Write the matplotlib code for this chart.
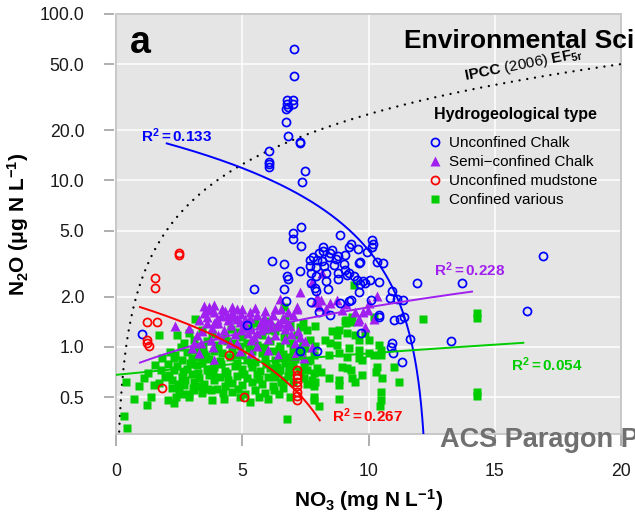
import numpy as np
import matplotlib
matplotlib.use("Agg")
import matplotlib.pyplot as plt
from matplotlib.patches import Rectangle
from matplotlib.ticker import NullLocator

plt.rcParams['font.family'] = ['Liberation Sans', 'DejaVu Sans']
plt.rcParams['mathtext.fontset'] = 'custom'
plt.rcParams['mathtext.rm'] = 'Liberation Sans'
plt.rcParams['mathtext.bf'] = 'Liberation Sans:bold'
plt.rcParams['mathtext.it'] = 'Liberation Sans:italic'
plt.rcParams['mathtext.sf'] = 'Liberation Sans'

# ---------------- data (NO3 mg N/L, N2O ug N/L) ----------------
unconfined_chalk = [
    (7.06, 61.3), (7.06, 42.4), (6.79, 30.3), (7.02, 30.3), (6.79, 28.7), (7.02, 28.7), (6.75, 26.8),
    (6.83, 27.6), (6.75, 22.5), (6.83, 18.6), (7.30, 17.0), (7.30, 16.7), (6.07, 15.0), (6.07, 12.9),
    (6.07, 12.5), (6.07, 12.1), (7.49, 11.4), (7.38, 9.8),
    (7.33, 5.27), (7.01, 4.85), (7.01, 4.43), (7.33, 4.04), (8.86, 4.70), (10.15, 4.39), (10.19, 4.15),
    (10.12, 3.96), (9.29, 4.15), (9.23, 3.96), (9.58, 3.89), (8.20, 3.96), (8.57, 3.82), (8.49, 3.68),
    (8.20, 3.78), (8.02, 3.65), (7.81, 3.45), (7.70, 3.32), (7.96, 3.32), (8.15, 3.29), (8.44, 3.48),
    (8.70, 3.36), (8.81, 3.51), (9.05, 3.56), (9.95, 3.71), (10.35, 3.25), (10.58, 3.20), (6.16, 3.29),
    (6.67, 3.15), (7.27, 2.84), (7.67, 3.06), (7.91, 3.03), (8.25, 3.06), (8.62, 3.10), (9.02, 3.15),
    (9.63, 3.18), (9.68, 3.24), (7.73, 2.77), (7.94, 2.67), (8.31, 2.77), (8.78, 2.77), (8.78, 2.57),
    (9.08, 2.90), (9.23, 2.79), (9.15, 2.70), (9.44, 2.67), (6.77, 2.67), (6.80, 2.57), (8.33, 2.50),
    (7.73, 2.43), (9.55, 2.52), (9.79, 2.50), (10.05, 2.52), (10.40, 2.45), (9.88, 2.41), (9.66, 2.39),
    (7.89, 2.25), (7.94, 2.18), (8.38, 2.22), (6.64, 2.24), (5.45, 2.22), (9.63, 2.15), (7.73, 1.85),
    (6.75, 1.90), (8.89, 1.83), (9.23, 1.88), (9.31, 1.91), (8.04, 1.63), (8.49, 1.55), (10.92, 2.18),
    (10.87, 1.97), (11.14, 1.93), (11.38, 1.91), (10.40, 1.56), (10.42, 1.51), (11.00, 1.45),
    (11.24, 1.47), (11.40, 1.52),
    (1.03, 1.19), (5.18, 1.36), (7.30, 0.95), (7.98, 0.95), (9.70, 1.21), (10.94, 1.06), (10.90, 1.00),
    (10.98, 0.92), (11.34, 0.81), (11.64, 1.11), (11.93, 2.42), (13.25, 1.08), (13.72, 2.42),
    (16.28, 1.65), (16.93, 3.53), (10.08, 1.91),
]

semi_confined_chalk = [
    (7.30, 2.15), (6.51, 1.93), (7.17, 1.73), (7.96, 2.00), (8.10, 1.91), (7.90, 1.87), (8.03, 1.75),
    (8.49, 1.83), (8.76, 1.91), (8.33, 1.68), (8.96, 1.67), (9.48, 1.63), (9.97, 1.67), (10.32, 2.02),
    (10.03, 1.83), (9.62, 1.47), (9.88, 1.32), (5.85, 1.49), (6.40, 1.39), (6.77, 1.39), (7.77, 2.47),
    (8.16, 2.77),
    (3.69, 1.73), (2.34, 1.34), (3.49, 1.59), (3.89, 1.63), (4.15, 1.53), (4.42, 1.45), (4.68, 1.52),
    (4.95, 1.58), (4.55, 1.36), (3.89, 1.40), (4.29, 1.26), (4.02, 1.18), (3.76, 1.10), (3.36, 1.05),
    (3.10, 1.05), (4.95, 1.26), (5.21, 1.21), (5.48, 1.15), (5.87, 1.49), (6.14, 1.32), (6.00, 0.96),
    (3.89, 0.84), (3.62, 1.39), (4.81, 1.05), (5.35, 1.10), (5.74, 1.26),
    (3.02, 0.99), (3.70, 1.66), (4.04, 1.40), (4.51, 1.51), (4.78, 1.47), (5.05, 1.40), (5.33, 1.28),
    (5.87, 1.44), (6.41, 1.34), (6.68, 1.28), (6.95, 1.19), (7.49, 1.08), (7.76, 1.00), (6.00, 1.11),
    (5.60, 1.22), (4.51, 1.06), (3.83, 1.00), (7.08, 0.90), (7.43, 0.86), (6.41, 0.90), (5.33, 0.92),
    (7.15, 1.70), (6.54, 1.68), (9.12, 1.82), (9.59, 1.44), (9.79, 1.62), (10.20, 1.47),
    (4.30, 1.65), (4.80, 1.70), (5.30, 1.62), (5.60, 1.55), (3.30, 1.45), (4.60, 1.62), (5.10, 1.48),
    (6.20, 1.55), (6.60, 1.50), (2.90, 1.30), (3.20, 1.18),
    (3.50, 1.75), (3.90, 1.78), (4.20, 1.70), (4.60, 1.74), (5.00, 1.68), (5.50, 1.72), (5.90, 1.65),
    (6.30, 1.70), (6.80, 1.62), (7.00, 1.55), (3.60, 1.52), (4.00, 1.48), (4.40, 1.55), (4.90, 1.42),
    (5.30, 1.50), (5.70, 1.38), (6.10, 1.45), (6.50, 1.40), (6.90, 1.33), (7.20, 1.25), (3.40, 1.25),
    (3.80, 1.30), (4.70, 1.20), (5.10, 1.32), (5.90, 1.30), (6.30, 1.18), (6.70, 1.12), (7.10, 1.05),
    (4.20, 1.12), (5.60, 1.02), (4.90, 0.95), (3.30, 0.92), (7.30, 1.15),
]

unconfined_mudstone = [
    (1.24, 1.41), (1.62, 1.41), (1.22, 1.10), (1.24, 1.06), (1.31, 1.02), (1.84, 0.565), (4.46, 0.895),
    (5.08, 0.50), (2.48, 3.66), (2.48, 3.58), (1.53, 2.59), (1.53, 2.25),
    (7.16, 0.728), (7.16, 0.68), (7.16, 0.65), (7.16, 0.62), (7.17, 0.58), (7.16, 0.54), (7.16, 0.51),
    (7.17, 0.48),
]

confined_various = [
    (3.13, 1.47), (1.71, 1.18), (2.43, 1.18), (2.57, 1.00), (1.84, 0.86), (2.30, 0.86), (3.10, 1.10),
    (3.29, 0.875), (1.77, 0.73), (2.30, 0.73), (1.11, 0.65), (0.38, 0.62), (0.91, 0.58), (1.51, 0.59),
    (1.38, 0.50), (0.71, 0.49), (1.24, 0.45), (2.04, 0.48), (2.37, 0.50), (2.90, 0.52), (0.32, 0.385),
    (0.45, 0.325), (2.21, 0.57), (2.75, 0.63), (2.28, 0.46), (2.88, 0.50),
    (4.29, 0.49), (3.76, 0.55), (3.36, 0.58), (3.10, 0.55),
    (6.24, 0.55), (6.31, 0.66), (6.64, 0.635), (6.84, 0.71), (6.38, 0.76), (6.90, 0.82), (6.58, 0.855),
    (7.43, 0.78), (7.70, 0.835), (7.57, 0.73), (7.77, 0.635), (7.43, 0.65),
    (8.49, 1.05), (8.76, 1.03), (9.22, 0.98), (9.62, 0.96), (10.01, 0.92),
    (6.90, 1.36), (6.38, 1.32), (7.57, 1.26), (7.17, 1.18), (6.64, 1.15), (7.70, 1.10), (8.29, 1.10),
    (9.09, 1.39), (9.29, 1.42), (8.82, 1.26),
    (8.56, 1.25), (8.76, 1.18), (9.15, 1.21), (9.48, 1.18), (9.88, 1.21), (10.01, 1.10), (9.62, 1.10),
    (10.41, 1.03), (10.48, 0.96), (10.21, 0.90), (10.48, 0.90),
    (8.42, 0.90), (8.82, 0.92), (9.15, 0.875), (9.62, 0.855), (9.75, 0.835),
    (7.83, 0.90), (7.37, 0.92), (6.90, 0.875),
    (7.96, 0.745), (8.10, 0.71), (7.83, 0.695), (8.42, 0.65), (7.90, 0.62), (7.83, 0.58), (8.82, 0.59),
    (8.82, 0.635), (9.35, 0.65), (9.29, 0.73), (8.96, 0.76), (9.15, 0.745), (9.48, 0.62), (9.75, 0.68),
    (10.35, 0.76), (10.28, 0.71), (10.54, 0.65), (11.20, 0.62), (11.00, 0.76), (10.48, 0.54),
    (10.48, 0.48), (8.82, 0.49), (7.83, 0.50), (7.83, 0.48), (6.77, 0.37), (6.90, 0.50), (8.03, 0.44),
    (10.47, 0.44),
    (12.17, 1.47), (9.05, 1.44), (14.31, 1.59), (14.31, 1.49), (14.31, 0.54), (14.31, 0.51),
    (9.42, 2.36), (6.64, 1.73), (9.09, 1.45), (9.35, 1.52), (10.21, 1.52), (5.52, 1.39),
    (2.90, 1.22), (3.40, 1.27), (3.80, 1.20), (4.30, 1.17), (4.80, 1.23), (5.30, 1.30), (5.80, 1.18),
    (6.30, 1.24), (7.30, 1.31), (5.00, 1.14), (4.55, 1.28), (6.00, 1.27),
    (2.70, 1.05), (3.20, 1.02), (3.60, 1.08), (4.00, 1.03), (4.40, 1.09), (4.90, 1.01), (5.20, 1.06),
    (5.60, 1.03), (6.10, 1.08), (6.50, 1.02), (6.90, 1.06), (7.40, 1.04), (7.90, 1.02),
    (2.80, 0.93), (3.10, 0.96), (3.50, 0.91), (3.90, 0.95), (4.20, 0.92), (4.60, 0.97), (5.00, 0.90),
    (5.40, 0.94), (5.80, 0.92), (6.20, 0.95), (6.60, 0.91), (7.00, 0.96), (7.50, 0.99),
    (2.60, 0.83), (3.00, 0.86), (3.40, 0.81), (3.70, 0.85), (4.10, 0.82), (4.50, 0.87), (4.80, 0.80),
    (5.20, 0.84), (5.50, 0.81), (5.90, 0.86), (6.30, 0.83), (6.70, 0.80), (7.10, 0.85), (7.60, 0.82),
    (2.40, 0.77), (2.80, 0.74), (3.20, 0.78), (3.60, 0.73), (3.90, 0.76), (4.30, 0.72), (4.70, 0.77),
    (5.00, 0.74), (5.40, 0.76), (5.70, 0.72), (6.10, 0.75), (6.50, 0.73), (7.00, 0.77), (7.30, 0.72),
    (2.10, 0.68), (2.60, 0.66), (3.00, 0.69), (3.30, 0.65), (3.70, 0.68), (4.10, 0.66), (4.40, 0.70),
    (4.80, 0.67), (5.20, 0.65), (5.60, 0.69), (6.00, 0.66), (6.40, 0.70), (6.80, 0.67),
    (1.70, 0.61), (2.20, 0.63), (2.70, 0.59), (3.10, 0.62), (3.50, 0.60), (3.90, 0.63), (4.30, 0.58),
    (4.60, 0.61), (5.00, 0.59), (5.40, 0.62), (5.80, 0.60), (6.20, 0.58),
    (2.50, 0.55), (3.40, 0.53), (4.00, 0.56), (4.60, 0.54), (5.10, 0.52), (5.50, 0.55), (5.90, 0.53),
    (3.80, 0.48), (4.90, 0.50), (5.30, 0.47), (6.00, 0.49),
    (5.90, 1.43), (6.70, 1.47), (7.40, 1.40), (7.90, 1.33),
    (2.35, 0.90), (2.65, 0.71), (2.95, 0.80), (3.25, 0.70), (3.55, 0.88), (3.85, 0.70), (4.15, 0.79),
    (4.45, 0.63), (4.75, 0.90), (5.05, 0.69), (5.35, 0.80), (5.65, 0.64), (5.95, 0.79), (6.25, 0.69),
    (6.55, 0.62), (6.85, 0.74), (7.25, 0.88), (7.55, 0.60), (3.05, 0.57), (3.65, 0.56), (4.25, 0.53),
    (4.85, 0.56), (5.65, 0.50), (6.45, 0.52), (2.05, 0.79), (1.95, 0.66), (2.45, 0.60), (3.45, 0.99),
    (4.05, 0.98), (4.65, 1.05), (5.25, 0.98), (5.85, 1.00), (6.45, 0.97), (7.15, 0.99), (2.15, 0.93),
    (1.55, 0.78), (1.25, 0.70), (2.60, 0.52), (6.60, 0.57), (7.00, 0.62),
]

# fitted regressions (intercept, slope, x-range) and R^2 labels
chalk_fit = (19.94, -1.613, 2.01, 12.34)
semi_fit = (0.708, 0.1023, 0.95, 14.1)
mud_fit = (1.92, -0.193, 0.95, 8.07)
confined_fit = (0.68, 0.0235, 0.0, 16.13)
r2_labels = ["0.133", "0.228", "0.267", "0.054"]
ipcc_ef5r = 2.5  # ug N2O-N per mg NO3-N

x_ticks = [0, 5, 10, 15, 20]
x_tick_labels = ["0", "5", "10", "15", "20"]
y_ticks = [0.5, 1, 2, 5, 10, 20, 50, 100]
y_tick_labels = ["0.5", "1.0", "2.0", "5.0", "10.0", "20.0", "50.0", "100.0"]
legend_labels = ["Unconfined Chalk", "Semi\u2212confined Chalk", "Unconfined mudstone", "Confined various"]

C_BLUE = "#0000FF"
C_PURPLE = "#A020F0"
C_RED = "#FF0000"
C_GREEN = "#00CD00"

# ---------------- figure ----------------
W, H = 635, 512
fig = plt.figure(figsize=(W / 100, H / 100), dpi=100)
ax = fig.add_axes([116 / W, 1 - 434 / H, 505 / W, 420 / H])
ax.set_facecolor("#E5E5E5")
ax.set_yscale("log")
ax.set_xlim(0, 20)
ax.set_ylim(0.3, 100)
ax.set_xticks(x_ticks)
ax.set_xticklabels(x_tick_labels)
ax.set_yticks(y_ticks)
ax.set_yticklabels(y_tick_labels)
ax.yaxis.set_minor_locator(NullLocator())
ax.xaxis.set_minor_locator(NullLocator())
ax.grid(True, color="white", lw=1.1)
ax.set_axisbelow(True)
for s in ax.spines.values():
    s.set_visible(False)
ax.spines["left"].set_position(("outward", 1.5))
ax.tick_params(axis="y", length=7.2, width=1.1, color="#9A9A9A", pad=14.0,
               labelsize=12.7, labelcolor="#1A1A1A")
ax.tick_params(axis="x", length=8.6, width=1.1, color="#9A9A9A", pad=12.0,
               labelsize=12.7, labelcolor="#1A1A1A")
ax.add_patch(Rectangle((0, 0), 1, 1, transform=ax.transAxes, fill=False,
                       ec="#C4C4C4", lw=1.3, clip_on=False, zorder=1))

# IPCC line
xi = np.linspace(0.1, 20, 400)
ax.plot(xi, ipcc_ef5r * xi, color="black", lw=1.7, ls=(0, (0.01, 3.3)),
        dash_capstyle="round", zorder=2)


def arr(lst):
    a = np.array(lst)
    return a[:, 0], a[:, 1]


ms_kw = dict(ls="none")
gx, gy = arr(confined_various)
h_conf, = ax.plot(gx, gy, marker="s", ms=6.0, color=C_GREEN, mec="none", zorder=3, **ms_kw)
px, py = arr(semi_confined_chalk)
h_semi, = ax.plot(px, py, marker="^", ms=7.0, color=C_PURPLE, mec="none", zorder=4, **ms_kw)
bx, by = arr(unconfined_chalk)
h_chalk, = ax.plot(bx, by, marker="o", ms=5.8, mfc="none", mec=C_BLUE, mew=1.25, zorder=5, **ms_kw)
rx, ry = arr(unconfined_mudstone)
h_mud, = ax.plot(rx, ry, marker="o", ms=5.8, mfc="none", mec=C_RED, mew=1.25, zorder=6, **ms_kw)

# regression lines
for fit, col in [(chalk_fit, C_BLUE), (semi_fit, C_PURPLE), (mud_fit, C_RED), (confined_fit, C_GREEN)]:
    a, b, x0, x1 = fit
    xx = np.linspace(x0, x1, 600)
    yy = a + b * xx
    ax.plot(xx, yy, color=col, lw=1.4, zorder=7)

# R^2 labels
lab_kw = dict(fontsize=11, ha="left", va="baseline", zorder=8)
ax.text(0.99, 17.0, r"$\mathbf{R^2 = %s}$" % r2_labels[0], color=C_BLUE, **lab_kw)
ax.text(12.59, 2.67, r"$\mathbf{R^2 = %s}$" % r2_labels[1], color=C_PURPLE, **lab_kw)
ax.text(8.56, 0.356, r"$\mathbf{R^2 = %s}$" % r2_labels[2], color=C_RED, **lab_kw)
ax.text(15.63, 0.72, r"$\mathbf{R^2 = %s}$" % r2_labels[3], color=C_GREEN, **lab_kw)

# IPCC label
ax.text(16.15, 49.3, r"$\mathbf{IPCC}\ \mathrm{(2006)}\ \mathbf{EF}_{\mathbf{5r}}$",
        fontsize=11, rotation=11, ha="center", va="center", rotation_mode="anchor", zorder=8)

# panel letter
ax.text(0.028, 0.907, "a", transform=ax.transAxes, fontsize=27, fontweight="bold",
        ha="left", va="baseline", zorder=8)

# legend
fig.text(515.5 / W, 1 - 115 / H, "Hydrogeological type", fontsize=11.5, fontweight="bold",
         ha="center", va="center")
leg = ax.legend([h_chalk, h_semi, h_mud, h_conf], legend_labels,
                loc="upper left", bbox_to_anchor=(428.4 / W, 1 - 136 / H),
                bbox_transform=fig.transFigure, frameon=False, fontsize=11,
                borderpad=0, borderaxespad=0, handlelength=0.8, handletextpad=0.55,
                labelspacing=0.33, numpoints=1)
leg.set_zorder(9)

# axis labels
fig.text(368.5 / W, 1 - 507 / H, r"$\mathbf{NO_3\ (mg\ N\ L^{-1})}$", fontsize=15,
         ha="center", va="baseline")
fig.text(18.5 / W, 1 - 224 / H, r"$\mathbf{N_2O\ (\mu g\ N\ L^{-1})}$", fontsize=15,
         ha="center", va="center", rotation=90)

# overlay watermark texts (cut by the right edge, as in the source)
fig.text(404 / W, 1 - 47.8 / H, "Environmental Sci", fontsize=19, fontweight="bold",
         color="black", ha="left", va="baseline", zorder=20)
fig.text(440 / W, 1 - 446.7 / H, "ACS Paragon P", fontsize=19.5, fontweight="bold",
         color="#707070", ha="left", va="baseline", zorder=20)

fig.savefig("out.png", dpi=100)
